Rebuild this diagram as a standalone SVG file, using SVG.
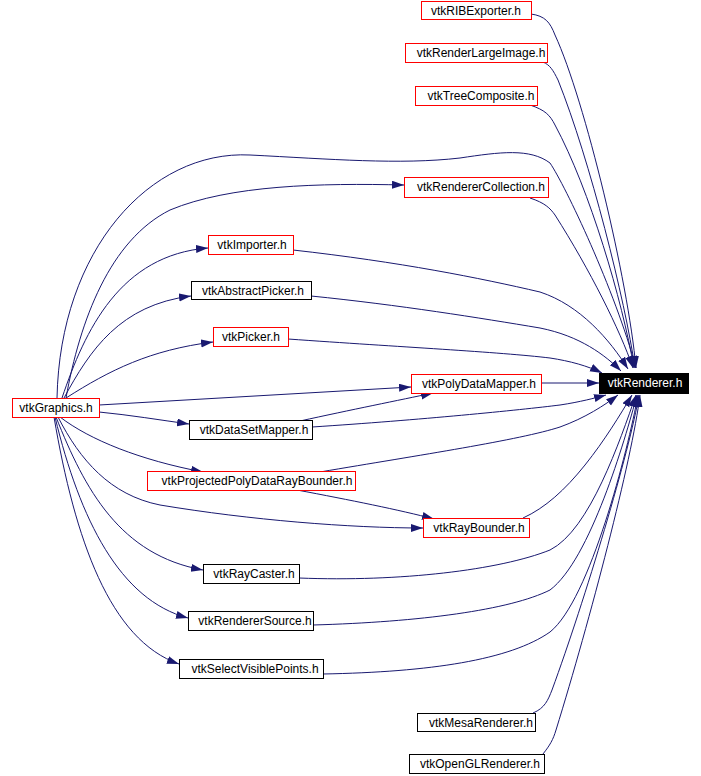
<svg xmlns="http://www.w3.org/2000/svg" width="701" height="776" viewBox="0 0 701 776">
<style>
.e{fill:none;stroke:#191970;stroke-width:1;marker-end:url(#a)}
.n rect{fill:#fff;stroke:#000;stroke-width:1}
.n.r rect{stroke:#ff0000}
.n text{font-family:"Liberation Sans",Arial,sans-serif;font-size:12px;fill:#000;text-anchor:middle}
#vtkRenderer rect{fill:#000;stroke:#000}
#vtkRenderer text{fill:#fff}
</style>
<defs>
<marker id="a" markerUnits="userSpaceOnUse" markerWidth="13" markerHeight="9" refX="12" refY="4" orient="auto">
<path d="M0,0 L12,4 L0,8 z" fill="#191970"/>
</marker>
</defs>
<rect width="701" height="776" fill="#fff"/>
<g id="connectors">
<path class="e" d="M531,14 C545,16 550,22 555,35 C585,100 628,280 636,368"/>
<path class="e" d="M543,62 C550,65 553,70 558,80 C590,160 625,300 635,368"/>
<path class="e" d="M530,105 C545,110 550,115 555,125 C590,190 622,300 634,368"/>
<path class="e" d="M530,198 C545,203 550,208 555,215 C590,270 620,330 633,368"/>
<path class="e" d="M57,398 C60,250 150,150 250,155 C330,159 400,165 460,158 C500,152 530,148 550,163 C565,185 615,290 636,368"/>
<path class="e" d="M66,398 C80,320 110,240 170,210 C230,185 320,183 404,185"/>
<path class="e" d="M293,250 C400,262 480,278 540,292 C580,305 610,340 628,369"/>
<path class="e" d="M311,296 C400,305 480,318 540,328 C580,336 605,355 621,371"/>
<path class="e" d="M288,339 C400,347 500,352 550,358 C570,361 588,366 602,373"/>
<path class="e" d="M62,398 C85,330 120,255 208,248"/>
<path class="e" d="M64,398 C90,350 120,305 191,296"/>
<path class="e" d="M66,398 C110,370 150,350 213,342"/>
<path class="e" d="M99,405 L411,387"/>
<path class="e" d="M541,383 L599,383"/>
<path class="e" d="M99,412 C130,415 160,420 189,424"/>
<path class="e" d="M60,417 C90,440 140,460 203,472"/>
<path class="e" d="M58,417 C80,460 110,495 160,505 C250,520 350,528 423,528"/>
<path class="e" d="M56,417 C85,490 120,555 203,570"/>
<path class="e" d="M55,417 C80,520 120,600 188,618"/>
<path class="e" d="M54,417 C75,540 110,640 179,664"/>
<path class="e" d="M300,421 C350,410 400,400 433,393"/>
<path class="e" d="M312,427 C420,420 520,410 560,405 C580,402 595,398 606,395"/>
<path class="e" d="M320,472 C420,455 520,440 560,427 C585,418 605,405 618,395"/>
<path class="e" d="M297,490 C350,500 400,510 434,519"/>
<path class="e" d="M523,518 C545,508 565,490 585,465 C605,440 620,415 632,395"/>
<path class="e" d="M299,578 C400,582 500,570 550,550 C590,530 620,440 636,395"/>
<path class="e" d="M313,625 C420,622 510,610 550,590 C590,560 625,440 637,395"/>
<path class="e" d="M323,674 C430,672 510,660 550,632 C590,600 628,450 638,395"/>
<path class="e" d="M533,713 C545,708 548,700 552,690 C585,600 630,450 639,395"/>
<path class="e" d="M543,754 C550,745 553,740 556,730 C590,620 632,460 640,395"/>
</g>
<g id="vtkRIBExporter" class="n r"><rect x="421.5" y="1.5" width="110" height="18"/><text x="476" y="15">vtkRIBExporter.h</text></g>
<g id="vtkRenderLargeImage" class="n r"><rect x="405.5" y="43.5" width="142" height="19"/><text x="481" y="57">vtkRenderLargeImage.h</text></g>
<g id="vtkTreeComposite" class="n r"><rect x="415.5" y="86.5" width="122" height="19"/><text x="481" y="100">vtkTreeComposite.h</text></g>
<g id="vtkRendererCollection" class="n r"><rect x="404.5" y="177.5" width="144" height="20"/><text x="481" y="191">vtkRendererCollection.h</text></g>
<g id="vtkImporter" class="n r"><rect x="208.5" y="235.5" width="85" height="19"/><text x="252" y="249">vtkImporter.h</text></g>
<g id="vtkAbstractPicker" class="n"><rect x="191.5" y="281.5" width="120" height="18"/><text x="253" y="295">vtkAbstractPicker.h</text></g>
<g id="vtkPicker" class="n r"><rect x="213.5" y="327.5" width="75" height="19"/><text x="251" y="341">vtkPicker.h</text></g>
<g id="vtkGraphics" class="n r"><rect x="12.5" y="398.5" width="87" height="19"/><text x="56" y="412">vtkGraphics.h</text></g>
<g id="vtkRenderer" class="n"><rect x="599.5" y="373.5" width="89" height="20"/><text x="645" y="387">vtkRenderer.h</text></g>
<g id="vtkPolyDataMapper" class="n r"><rect x="411.5" y="374.5" width="130" height="19"/><text x="479" y="388">vtkPolyDataMapper.h</text></g>
<g id="vtkDataSetMapper" class="n"><rect x="189.5" y="420.5" width="123" height="19"/><text x="254" y="434">vtkDataSetMapper.h</text></g>
<g id="vtkProjectedPolyDataRayBounder" class="n r"><rect x="147.5" y="471.5" width="208" height="19"/><text x="257" y="485">vtkProjectedPolyDataRayBounder.h</text></g>
<g id="vtkRayBounder" class="n r"><rect x="423.5" y="518.5" width="106" height="19"/><text x="479" y="532">vtkRayBounder.h</text></g>
<g id="vtkRayCaster" class="n"><rect x="203.5" y="564.5" width="96" height="19"/><text x="254" y="578">vtkRayCaster.h</text></g>
<g id="vtkRendererSource" class="n"><rect x="188.5" y="611.5" width="125" height="19"/><text x="255" y="625">vtkRendererSource.h</text></g>
<g id="vtkSelectVisiblePoints" class="n"><rect x="179.5" y="659.5" width="144" height="19"/><text x="255" y="673">vtkSelectVisiblePoints.h</text></g>
<g id="vtkMesaRenderer" class="n"><rect x="417.5" y="713.5" width="118" height="18"/><text x="481" y="727">vtkMesaRenderer.h</text></g>
<g id="vtkOpenGLRenderer" class="n"><rect x="409.5" y="754.5" width="135" height="19"/><text x="480" y="768">vtkOpenGLRenderer.h</text></g>
</svg>
